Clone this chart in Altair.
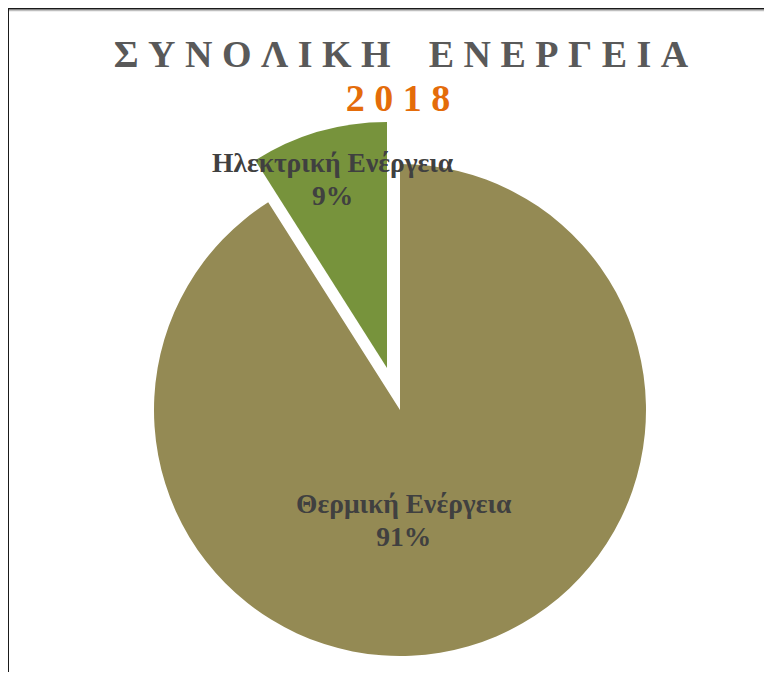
import altair as alt
import pandas as pd

categories = ["Θερμική Ενέργεια", "Ηλεκτρική Ενέργεια"]
values = [91, 9]
colors = ["#948A54", "#77933C"]
NB = "\u00a0"
title_text = NB.join("ΣΥΝΟΛΙΚΗ") + NB * 4 + NB.join("ΕΝΕΡΓΕΙΑ")
subtitle_text = NB.join("2018")

df = pd.DataFrame({"category": categories, "value": values})

FONT = "Liberation Serif"
R = 246
CX, CY = 392, 402          # main pie centre (view coords)
EX, EY = 379, 360          # exploded slice centre

base = alt.Chart(df).transform_calculate(
    label="datum.category + '\\n' + datum.value + '%'"
).encode(
    theta=alt.Theta("value:Q", stack=True),
    order=alt.Order("value:Q", sort="descending"),
)

color = alt.Color("category:N", scale=alt.Scale(domain=categories, range=colors), legend=None)

is_thermal = alt.datum.category == categories[0]
is_elec = alt.datum.category == categories[1]

arc_main = base.mark_arc(radius=R).encode(
    x=alt.value(CX), y=alt.value(CY), color=color,
    opacity=alt.condition(is_thermal, alt.value(1), alt.value(0)),
)
arc_exp = base.mark_arc(radius=R).encode(
    x=alt.value(EX), y=alt.value(EY), color=color,
    opacity=alt.condition(is_elec, alt.value(1), alt.value(0)),
)

txt_main = base.mark_text(
    radius=110, dx=-27, dy=-11, font=FONT, fontSize=27.5, fontWeight="bold",
    color="#404040", lineBreak="\n", baseline="middle", align="center", lineHeight=33,
).encode(
    x=alt.value(CX), y=alt.value(CY), text="label:N",
    opacity=alt.condition(is_thermal, alt.value(1), alt.value(0)),
)
txt_exp = base.mark_text(
    radius=195, dy=-17, font=FONT, fontSize=27.5, fontWeight="bold",
    color="#404040", lineBreak="\n", baseline="middle", align="center", lineHeight=33,
).encode(
    x=alt.value(EX), y=alt.value(EY), text="label:N",
    opacity=alt.condition(is_elec, alt.value(1), alt.value(0)),
)

tdf = pd.DataFrame({"t": [title_text], "s": [subtitle_text]})
title = alt.Chart(tdf).mark_text(
    font=FONT, fontSize=38, fontWeight="bold", color="#595959", baseline="alphabetic", align="center"
).encode(text="t:N", x=alt.value(393), y=alt.value(59))
subtitle = alt.Chart(tdf).mark_text(
    font=FONT, fontSize=38, fontWeight="bold", color="#E46C0A", baseline="alphabetic", align="center"
).encode(text="s:N", x=alt.value(390), y=alt.value(103))

frame_shadow = alt.Chart(tdf).mark_rule(color="#bfbfbf", strokeWidth=1.5).encode(
    x=alt.value(1), x2=alt.value(760), y=alt.value(2.5)
)
frame_top = alt.Chart(tdf).mark_rule(color="#1a1a1a", strokeWidth=2).encode(
    x=alt.value(-1), x2=alt.value(760), y=alt.value(0.5)
)
frame_left = alt.Chart(tdf).mark_rule(color="#1a1a1a", strokeWidth=2).encode(
    x=alt.value(0), y=alt.value(0), y2=alt.value(668)
)

chart = alt.layer(
    arc_main, arc_exp, txt_main, txt_exp, title, subtitle, frame_shadow, frame_top, frame_left
).properties(
    width=756, height=664, padding=0,
    autosize=alt.AutoSizeParams(type="none"),
).configure_view(stroke=None)

chart.save("out.html", embed_options={"renderer": "svg", "actions": False})
